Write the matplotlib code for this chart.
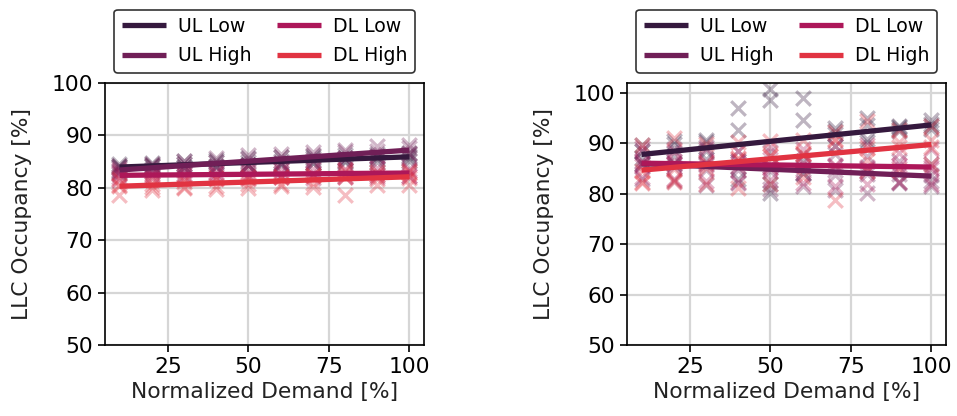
import numpy as np
import matplotlib
matplotlib.use("Agg")
import matplotlib.pyplot as plt
import seaborn as sns

# Normalized demand levels [%]
demand = [10, 20, 30, 40, 50, 60, 70, 80, 90, 100]
series_names = ["UL Low", "UL High", "DL Low", "DL High"]

# LLC occupancy [%] per demand level, one list of repeated runs per level
left_ul_low = [[83.2, 84.1, 84.6, 83.9], [84.8, 83.6, 84.3, 84.1], [85.1, 84.0, 84.6, 83.9],
               [85.3, 84.2, 84.9, 84.0], [85.6, 84.3, 84.9, 84.4], [85.9, 84.5, 85.2, 84.4],
               [86.0, 84.8, 85.6, 84.8], [86.3, 84.9, 85.7, 85.1], [86.5, 85.0, 85.9, 85.4],
               [86.6, 85.2, 86.1, 85.7]]
left_ul_high = [[82.6, 83.8, 84.2, 83.0], [84.6, 83.2, 84.1, 83.3], [85.1, 83.5, 84.6, 83.6],
                [85.6, 84.0, 85.0, 84.2], [86.2, 84.3, 85.5, 84.4], [86.5, 84.8, 85.9, 84.8],
                [86.9, 85.2, 86.2, 85.3], [87.2, 85.6, 86.8, 85.6], [88.0, 86.0, 87.1, 86.1],
                [88.1, 86.4, 87.6, 86.7]]
left_dl_low = [[81.5, 82.8, 83.3, 82.0], [83.0, 81.8, 82.6, 82.2], [83.2, 81.9, 82.7, 82.2],
               [83.1, 81.8, 82.8, 82.3], [83.5, 81.8, 82.9, 82.2], [83.4, 82.0, 82.8, 82.2],
               [83.6, 81.9, 82.9, 82.4], [83.5, 82.1, 83.0, 82.2], [83.7, 82.0, 83.1, 82.4],
               [83.6, 82.2, 83.2, 82.2]]
left_dl_high = [[78.6, 80.4, 81.6, 80.6], [79.6, 80.8, 81.4, 80.2], [80.0, 81.2, 81.5, 80.1],
                [79.8, 81.6, 81.8, 80.4], [79.9, 81.7, 82.0, 80.8], [80.4, 82.0, 82.1, 80.7],
                [80.2, 82.3, 82.5, 81.0], [78.6, 82.8, 83.4, 82.0], [80.6, 82.4, 83.0, 81.6],
                [80.5, 82.8, 83.2, 81.9]]

right_ul_low = [[86.0, 88.5, 89.6, 87.1], [86.2, 89.8, 90.4, 87.6], [87.0, 90.2, 90.6, 88.6],
                [97.1, 83.0, 92.6, 86.5], [100.8, 82.0, 98.6, 80.2], [99.0, 94.6, 84.2, 86.6],
                [93.0, 91.8, 89.5, 92.5], [95.0, 93.6, 90.2, 90.8], [93.2, 92.8, 93.5, 92.5],
                [94.6, 93.9, 92.8, 93.5]]
right_ul_high = [[83.0, 86.5, 88.6, 85.9], [82.6, 86.0, 88.8, 85.4], [81.8, 85.9, 89.2, 84.7],
                 [82.2, 85.3, 88.6, 84.7], [81.0, 85.6, 88.4, 84.6], [81.6, 84.9, 87.8, 84.1],
                 [80.8, 84.7, 87.9, 83.8], [80.2, 84.6, 87.6, 84.0], [82.2, 84.0, 86.6, 82.4],
                 [81.6, 83.8, 86.0, 82.6]]
right_dl_low = [[83.4, 86.4, 89.0, 85.6], [83.0, 86.6, 88.4, 86.0], [82.6, 86.4, 88.8, 85.8],
                [82.4, 86.6, 88.6, 85.6], [82.8, 85.6, 89.2, 85.2], [82.2, 86.2, 88.8, 85.6],
                [81.6, 85.8, 89.4, 85.6], [82.0, 85.4, 89.6, 85.0], [82.4, 85.8, 88.2, 85.2],
                [82.0, 85.4, 88.8, 85.0]]
right_dl_high = [[82.2, 84.6, 89.6, 82.4], [82.8, 85.0, 91.0, 82.4], [82.0, 86.2, 89.8, 85.2],
                 [81.2, 87.0, 90.2, 87.2], [82.0, 87.6, 90.4, 87.6], [83.4, 88.0, 90.6, 88.0],
                 [78.8, 90.8, 92.2, 90.6], [84.6, 89.0, 94.4, 86.8], [84.8, 90.2, 92.6, 89.2],
                 [86.0, 90.6, 93.4, 89.2]]

panels = [
    ([left_ul_low, left_ul_high, left_dl_low, left_dl_high], (50, 100)),
    ([right_ul_low, right_ul_high, right_dl_low, right_dl_high], (50, 102)),
]

colors = sns.color_palette("rocket", 6)[:4]
FS = 15.7

fig = plt.figure(figsize=(9.57, 4.16), dpi=100)
axes_rects = [[0.1097, 0.1707, 0.3333, 0.6298], [0.6552, 0.1707, 0.3333, 0.6298]]

for rect, (data, ylim) in zip(axes_rects, panels):
    ax = fig.add_axes(rect)
    ax.set_axisbelow(True)
    ax.grid(True, color="#d6d6d6", linewidth=1.6)

    # individual runs
    for runs, c in zip(data, colors):
        xs = np.repeat(demand, [len(r) for r in runs])
        ys = np.concatenate([np.asarray(r, float) for r in runs])
        ax.scatter(xs, ys, marker="x", s=110, linewidths=2.3, color=c, alpha=0.32, zorder=2)

    # linear fit per series
    handles = []
    for runs, c, name in zip(data, colors, series_names):
        xs = np.repeat(demand, [len(r) for r in runs]).astype(float)
        ys = np.concatenate([np.asarray(r, float) for r in runs])
        k, b = np.polyfit(xs, ys, 1)
        xf = np.array([min(demand), max(demand)], float)
        h, = ax.plot(xf, k * xf + b, color=c, linewidth=3.8, solid_capstyle="butt",
                     label=name, zorder=3)
        handles.append(h)

    ax.set_xlim(5.5, 104.5)
    ax.set_ylim(*ylim)
    ax.set_xticks([25, 50, 75, 100])
    ax.set_yticks([50, 60, 70, 80, 90, 100])
    ax.tick_params(labelsize=FS, length=5, width=1.2, color="black")
    for sp in ax.spines.values():
        sp.set_color("black")
        sp.set_linewidth(1.2)
    ax.set_xlabel("Normalized Demand [%]", fontsize=FS, color="#222222")
    ax.set_ylabel("LLC Occupancy [%]", fontsize=FS, color="#222222", labelpad=14)

    leg = ax.legend(handles=handles, ncol=2, loc="lower center",
                    bbox_to_anchor=(0.5, 1.038), borderaxespad=0, fontsize=13.6,
                    frameon=True, fancybox=True, framealpha=1, edgecolor="#333333",
                    handlelength=2.35, handletextpad=0.62, columnspacing=1.35,
                    borderpad=0.4, labelspacing=0.55)
    leg.get_frame().set_linewidth(1.2)

fig.savefig("out.png", dpi=100)
